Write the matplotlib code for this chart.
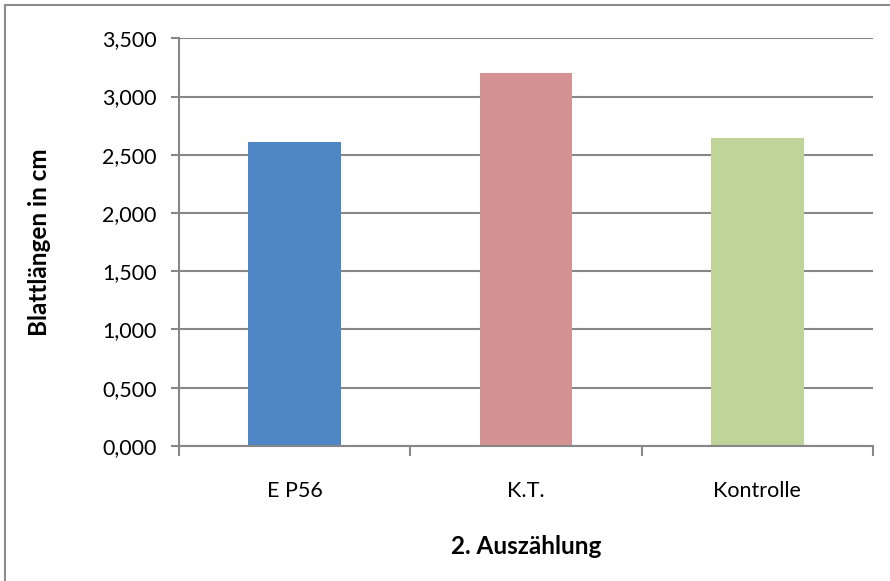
import matplotlib
matplotlib.use("Agg")
import matplotlib.pyplot as plt
from matplotlib.patches import Rectangle
from matplotlib.ticker import FuncFormatter, MultipleLocator

categories = ["E P56", "K.T.", "Kontrolle"]
values = [2.609, 3.200, 2.644]
bar_colors = ["#4F86C6", "#D49292", "#C0D399"]

y_label = "Blattlängen in cm"
x_label = "2. Auszählung"

plt.rcParams["font.family"] = ["Lato", "DejaVu Sans"]

fig = plt.figure(figsize=(8.9, 5.81), dpi=100)
ax = fig.add_axes([0.2011, 0.2324, 0.7798, 0.7017])

grid_c = "#878787"
x = list(range(len(categories)))
ax.bar(x, values, width=0.40, color=bar_colors, zorder=3)

ax.set_xlim(-0.5, len(categories) - 0.5)
ax.set_ylim(0, 3.5)
ax.yaxis.set_major_locator(MultipleLocator(0.5))
# German decimal comma
ax.yaxis.set_major_formatter(FuncFormatter(lambda v, p: f"{v:.3f}".replace(".", ",")))
ax.grid(axis="y", color=grid_c, linewidth=1.5, zorder=0)

ax.set_xticks(x)
ax.set_xticklabels(categories)
ax.set_xticks([-0.5, 0.5, 1.5, 2.5], minor=True)
ax.tick_params(axis="x", which="major", length=0, pad=25, labelsize=15.5)
ax.tick_params(axis="x", which="minor", length=7, width=1.5, color=grid_c, direction="out")
ax.tick_params(axis="y", length=6, width=1.5, color=grid_c, direction="out", pad=10, labelsize=15.5)

for s in ["top", "right"]:
    ax.spines[s].set_visible(False)
for s in ["left", "bottom"]:
    ax.spines[s].set_color(grid_c)
    ax.spines[s].set_linewidth(1.5)
    ax.spines[s].set_zorder(4)

ax.set_ylabel(y_label, fontsize=17.5, fontweight="bold", labelpad=37)
ax.set_xlabel(x_label, fontsize=17.5, fontweight="bold", labelpad=25)

# outer chart frame
fig.patches.append(Rectangle((4.5 / 890, -0.1), 1.2, (581 - 4.5) / 581 + 0.1,
                             transform=fig.transFigure, fill=False,
                             edgecolor="#8C8C8C", linewidth=1.5))

fig.savefig("out.png", dpi=100)
